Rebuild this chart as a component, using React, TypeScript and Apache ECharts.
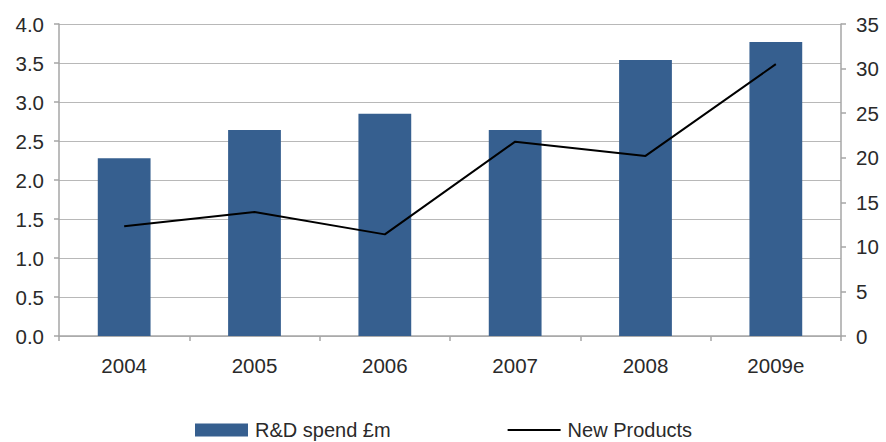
import React, { useEffect, useRef } from "react";
import * as echarts from "echarts";

const years = ["2004", "2005", "2006", "2007", "2008", "2009e"];
const rdSpend = [2.28, 2.64, 2.85, 2.64, 3.54, 3.77];
const newProducts = [12.3, 13.9, 11.4, 21.8, 20.2, 30.5];
const leftTicks = { min: 0, max: 4, interval: 0.5 };
const rightTicks = { min: 0, max: 35, interval: 5 };

const FONT = "Liberation Sans";
const TEXT = "#2a2a2a";
const AXIS = "#a6a6a6";
const GRID = "#b8b8b8";
const SIZE = 20.5;

export default function App() {
  const ref = useRef<HTMLDivElement>(null);

  useEffect(() => {
    if (!ref.current) return;
    const chart = echarts.init(ref.current, undefined, { renderer: "svg" });
    chart.setOption({
      animation: false,
      backgroundColor: "#ffffff",
      textStyle: { fontFamily: FONT },
      grid: { left: 59, right: 45, top: 24, bottom: 106, containLabel: false },
      legend: {
        top: 420,
        left: 195,
        padding: 0,
        itemWidth: 53,
        itemHeight: 13,
        itemGap: 116,
        textStyle: {
          fontFamily: FONT,
          fontSize: 20,
          lineHeight: 16,
          color: TEXT,
          padding: [0, 0, 0, 2],
        },
        data: [
          { name: "R&D spend £m", icon: "rect" },
          { name: "New Products", itemStyle: { opacity: 0 } },
        ],
      },
      xAxis: {
        type: "category",
        data: years,
        axisLine: { show: true, lineStyle: { color: AXIS, width: 1.5 } },
        axisTick: { show: true, alignWithLabel: false, length: 5, lineStyle: { color: AXIS, width: 1.5 } },
        axisLabel: { fontFamily: FONT, fontSize: SIZE, color: TEXT, margin: 19 },
      },
      yAxis: [
        {
          type: "value",
          position: "left",
          ...leftTicks,
          axisLine: { show: true, lineStyle: { color: AXIS, width: 1.5 } },
          axisTick: { show: true, length: 5, lineStyle: { color: AXIS, width: 1.5 } },
          splitLine: { show: true, lineStyle: { color: GRID, width: 1 } },
          axisLabel: {
            fontFamily: FONT,
            fontSize: SIZE,
            color: TEXT,
            margin: 15,
            formatter: (v: number) => v.toFixed(1),
          },
        },
        {
          type: "value",
          position: "right",
          ...rightTicks,
          axisLine: { show: true, lineStyle: { color: AXIS, width: 1.5 } },
          axisTick: { show: true, length: 5, lineStyle: { color: AXIS, width: 1.5 } },
          splitLine: { show: false },
          axisLabel: { fontFamily: FONT, fontSize: SIZE, color: TEXT, margin: 15 },
        },
      ],
      series: [
        {
          name: "R&D spend £m",
          type: "bar",
          yAxisIndex: 0,
          data: rdSpend,
          barWidth: "40.5%",
          itemStyle: { color: "#365f8f" },
        },
        {
          name: "New Products",
          type: "line",
          yAxisIndex: 1,
          data: newProducts,
          symbol: "none",
          lineStyle: { color: "#000000", width: 2 },
          itemStyle: { color: "#000000" },
        },
      ],
    });
    return () => chart.dispose();
  }, []);

  return (
    <div
      ref={ref}
      style={{ position: "fixed", left: 0, top: 0, width: 886, height: 442 }}
    />
  );
}
